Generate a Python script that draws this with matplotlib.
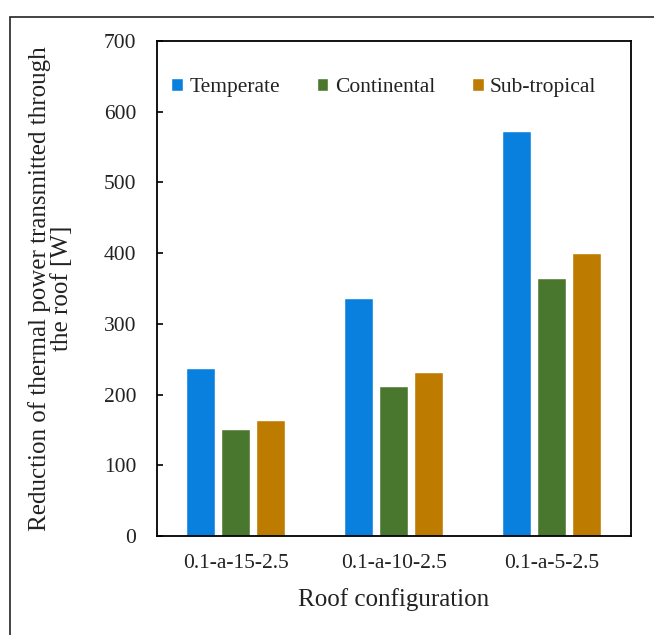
import matplotlib
matplotlib.use("Agg")
import matplotlib.pyplot as plt
import numpy as np
from matplotlib.patches import Rectangle

categories = ["0.1-a-15-2.5", "0.1-a-10-2.5", "0.1-a-5-2.5"]
series_names = ["Temperate", "Continental", "Sub-tropical"]
temperate = [236, 335, 572]
continental = [150, 211, 364]
subtropical = [163, 231, 399]
colors = ["#0A80DE", "#4A772E", "#BD7B00"]

plt.rcParams['font.family'] = ['Liberation Serif', 'DejaVu Serif']

W, H = 654, 635
fig = plt.figure(figsize=(W / 100, H / 100), dpi=100)
ax = fig.add_axes([157 / W, 1 - 536 / H, (631 - 157) / W, (536 - 41) / H])

x = np.arange(len(categories))
bw = 0.174
step = 0.222
for i, (vals, name) in enumerate(zip([temperate, continental, subtropical], series_names)):
    ax.bar(x + (i - 1) * step, vals, width=bw, color=colors[i], label=name,
           edgecolor='white', linewidth=0.3, zorder=2)

ax.set_xlim(-0.5, 2.5)
ax.set_ylim(0, 700)
ax.set_yticks(np.arange(0, 701, 100))
ax.set_xticks(x)
ax.set_xticklabels(categories)
ax.tick_params(axis='x', length=0, pad=13, labelsize=15.5, colors='#222222')
ax.tick_params(axis='y', direction='in', length=4, width=1.2, pad=15, labelsize=15.5,
               colors='black', labelcolor='#222222')
for s in ax.spines.values():
    s.set_linewidth(1.3)
    s.set_color('black')

ax.set_xlabel("Roof configuration", fontsize=18, labelpad=11, color='#222222')
ax.set_ylabel("Reduction of thermal power transmitted through\nthe roof [W]",
              fontsize=18, labelpad=22, color='#222222', linespacing=1.0)

leg = ax.legend(loc='upper left', bbox_to_anchor=(0.0, 0.955), ncol=3, frameon=False,
                fontsize=15.5, handlelength=0.5, handleheight=0.5, handletextpad=0.3,
                columnspacing=1.75, borderaxespad=0.3)
for t in leg.get_texts():
    t.set_color('#222222')

fig.patches.append(Rectangle((10 / W, -0.1), 2, 1 - 17 / H + 0.1, transform=fig.transFigure,
                             fill=False, edgecolor='#222222', linewidth=1.2, clip_on=False))

fig.savefig("out.png", dpi=100, facecolor='white')
